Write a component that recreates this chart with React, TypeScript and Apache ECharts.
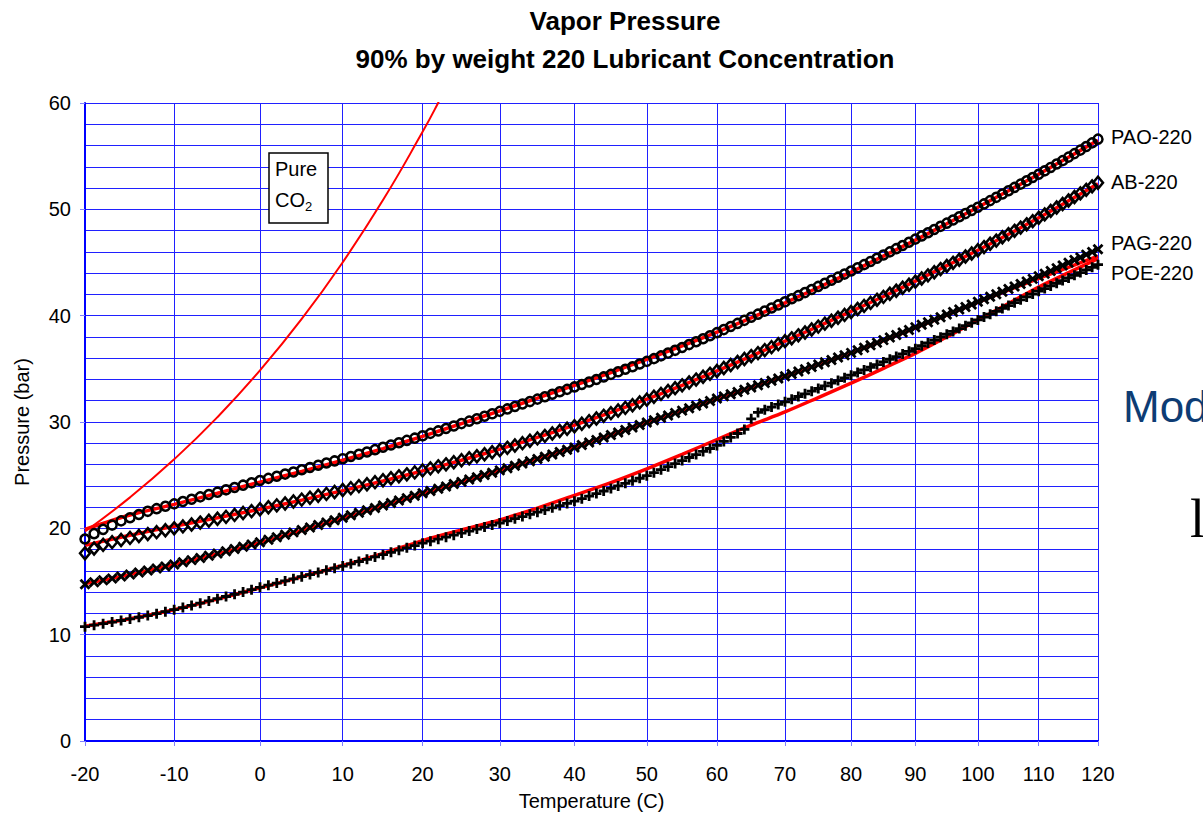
import React, { useEffect, useRef } from "react";
import * as echarts from "echarts";

// Temperatures (°C) of the measured points
const TEMPS = [
  -20, -19, -18, -17, -16, -15, -14, -13, -12, -11, -10, -9, -8, -7, -6, -5, -4, -3, -2, -1,
  0, 1, 2, 3, 4, 5, 6, 7, 8, 9, 10, 11, 12, 13, 14, 15, 16, 17, 18, 19,
  20, 21, 22, 23, 24, 25, 26, 27, 28, 29, 30, 31, 32, 33, 34, 35, 36, 37, 38, 39,
  40, 41, 42, 43, 44, 45, 46, 47, 48, 49, 50, 51, 52, 53, 54, 55, 56, 57, 58, 59,
  60, 61, 62, 63, 64, 65, 66, 67, 68, 69, 70, 71, 72, 73, 74, 75, 76, 77, 78, 79,
  80, 81, 82, 83, 84, 85, 86, 87, 88, 89, 90, 91, 92, 93, 94, 95, 96, 97, 98, 99,
  100, 101, 102, 103, 104, 105, 106, 107, 108, 109, 110, 111, 112, 113, 114, 115, 116, 117, 118, 119, 120,
];

const PAO = [
  19.0, 19.5, 19.9, 20.3, 20.7, 21.0, 21.3, 21.6, 21.85, 22.08, 22.3,
  22.52, 22.74, 22.96, 23.18, 23.4, 23.62, 23.84, 24.06, 24.28, 24.5,
  24.7, 24.9, 25.1, 25.3, 25.51, 25.72, 25.93, 26.14, 26.34, 26.55,
  26.76, 26.97, 27.18, 27.4, 27.62, 27.84, 28.05, 28.27, 28.48, 28.7,
  28.93, 29.16, 29.39, 29.62, 29.85, 30.08, 30.31, 30.54, 30.77, 31.0,
  31.23, 31.46, 31.69, 31.92, 32.15, 32.38, 32.61, 32.84, 33.07, 33.3,
  33.53, 33.76, 34.0, 34.24, 34.48, 34.72, 34.96, 35.2, 35.45, 35.7,
  35.96, 36.22, 36.48, 36.74, 37.01, 37.28, 37.55, 37.83, 38.11, 38.4,
  38.69, 38.98, 39.27, 39.56, 39.85, 40.14, 40.43, 40.72, 41.01, 41.3,
  41.59, 41.88, 42.17, 42.46, 42.75, 43.04, 43.33, 43.62, 43.91, 44.2,
  44.5, 44.8, 45.1, 45.4, 45.7, 46.0, 46.3, 46.6, 46.9, 47.2,
  47.5, 47.8, 48.1, 48.4, 48.7, 49.0, 49.3, 49.6, 49.9, 50.2,
  50.51, 50.82, 51.13, 51.44, 51.75, 52.06, 52.37, 52.68, 52.99, 53.3,
  53.62, 53.94, 54.26, 54.58, 54.91, 55.24, 55.57, 55.91, 56.25, 56.6,
];

const AB = [
  17.65, 18.1, 18.45, 18.7, 18.9, 19.1, 19.28, 19.46, 19.64, 19.82, 20.0,
  20.18, 20.36, 20.54, 20.72, 20.9, 21.08, 21.26, 21.44, 21.62, 21.8,
  21.98, 22.16, 22.34, 22.52, 22.7, 22.88, 23.06, 23.24, 23.42, 23.6,
  23.78, 23.97, 24.15, 24.34, 24.52, 24.71, 24.89, 25.08, 25.26, 25.45,
  25.64, 25.83, 26.02, 26.21, 26.4, 26.59, 26.78, 26.97, 27.16, 27.35,
  27.57, 27.79, 28.01, 28.24, 28.46, 28.69, 28.92, 29.15, 29.37, 29.6,
  29.84, 30.08, 30.33, 30.58, 30.83, 31.08, 31.33, 31.58, 31.84, 32.1,
  32.37, 32.64, 32.91, 33.18, 33.45, 33.72, 33.99, 34.26, 34.53, 34.8,
  35.08, 35.36, 35.64, 35.92, 36.2, 36.48, 36.76, 37.04, 37.32, 37.6,
  37.87, 38.15, 38.42, 38.7, 38.97, 39.25, 39.52, 39.8, 40.07, 40.35,
  40.63, 40.92, 41.2, 41.49, 41.77, 42.06, 42.34, 42.63, 42.91, 43.2,
  43.49, 43.79, 44.08, 44.38, 44.67, 44.97, 45.26, 45.56, 45.85, 46.15,
  46.45, 46.76, 47.06, 47.37, 47.67, 47.98, 48.28, 48.59, 48.89, 49.2,
  49.52, 49.85, 50.17, 50.5, 50.83, 51.16, 51.5, 51.83, 52.16, 52.5,
];

const PAG = [
  14.75, 14.93, 15.11, 15.29, 15.47, 15.65, 15.84, 16.03, 16.22, 16.41, 16.6,
  16.8, 17.01, 17.21, 17.42, 17.63, 17.85, 18.06, 18.27, 18.48, 18.7,
  18.93, 19.16, 19.39, 19.62, 19.85, 20.08, 20.31, 20.54, 20.77, 21.0,
  21.23, 21.46, 21.69, 21.92, 22.15, 22.38, 22.61, 22.84, 23.07, 23.3,
  23.51, 23.73, 23.94, 24.16, 24.37, 24.59, 24.8, 25.02, 25.23, 25.45,
  25.66, 25.88, 26.09, 26.31, 26.52, 26.74, 26.95, 27.17, 27.38, 27.6,
  27.83, 28.07, 28.3, 28.54, 28.77, 29.01, 29.24, 29.48, 29.71, 29.95,
  30.17, 30.4, 30.62, 30.85, 31.07, 31.3, 31.52, 31.75, 31.97, 32.2,
  32.41, 32.62, 32.83, 33.04, 33.25, 33.46, 33.67, 33.88, 34.09, 34.3,
  34.52, 34.74, 34.96, 35.18, 35.4, 35.62, 35.84, 36.06, 36.28, 36.5,
  36.74, 36.98, 37.22, 37.46, 37.7, 37.94, 38.18, 38.42, 38.66, 38.9,
  39.14, 39.38, 39.62, 39.86, 40.1, 40.34, 40.58, 40.82, 41.06, 41.3,
  41.54, 41.78, 42.02, 42.26, 42.5, 42.74, 42.98, 43.22, 43.46, 43.7,
  43.95, 44.21, 44.46, 44.72, 44.97, 45.23, 45.48, 45.74, 45.99, 46.25,
];

const POE = [
  10.75, 10.89, 11.03, 11.18, 11.33, 11.48, 11.64, 11.8, 11.97, 12.16, 12.35,
  12.55, 12.75, 12.96, 13.17, 13.38, 13.59, 13.8, 14.01, 14.23, 14.45,
  14.65, 14.85, 15.05, 15.25, 15.45, 15.65, 15.85, 16.05, 16.25, 16.45,
  16.66, 16.88, 17.09, 17.31, 17.52, 17.74, 17.95, 18.17, 18.38, 18.6,
  18.79, 18.98, 19.17, 19.36, 19.55, 19.74, 19.93, 20.12, 20.31, 20.5,
  20.7, 20.91, 21.11, 21.32, 21.52, 21.73, 21.93, 22.14, 22.34, 22.55,
  22.79, 23.03, 23.27, 23.51, 23.75, 23.99, 24.23, 24.47, 24.71, 24.95,
  25.23, 25.52, 25.8, 26.09, 26.37, 26.66, 26.94, 27.23, 27.51, 27.8,
  28.17, 28.55, 28.92, 29.3, 30.3, 30.9, 31.15, 31.4, 31.65, 31.9,
  32.15, 32.4, 32.65, 32.9, 33.15, 33.4, 33.65, 33.9, 34.15, 34.4,
  34.65, 34.9, 35.15, 35.4, 35.65, 35.9, 36.15, 36.4, 36.65, 36.9,
  37.17, 37.44, 37.71, 37.98, 38.25, 38.52, 38.79, 39.06, 39.33, 39.6,
  39.87, 40.14, 40.41, 40.68, 40.95, 41.22, 41.49, 41.76, 42.03, 42.3,
  42.55, 42.8, 43.05, 43.3, 43.55, 43.8, 44.05, 44.3, 44.55, 44.8,
];

// Fitted curves (red), every 5 °C
const FIT_TEMPS = [
  -20, -15, -10, -5, 0, 5, 10, 15, 20, 25, 30, 35, 40, 45, 50,
  55, 60, 65, 70, 75, 80, 85, 90, 95, 100, 105, 110, 115, 120,
];
const PAO_FIT = [
  19.9, 21.25, 22.25, 23.3, 24.35, 25.35, 26.4, 27.5, 28.65, 29.85, 31.05, 32.25, 33.45, 34.65, 35.9,
  37.15, 38.45, 39.8, 41.2, 42.65, 44.1, 45.6, 47.1, 48.65, 50.2, 51.75, 53.3, 54.9, 56.5,
];
const AB_FIT = [
  18.4, 19.35, 20.2, 21.0, 21.8, 22.65, 23.55, 24.45, 25.4, 26.4, 27.45, 28.55, 29.7, 30.9, 32.15,
  33.45, 34.8, 36.2, 37.6, 39.0, 40.4, 41.8, 43.25, 44.7, 46.15, 47.65, 49.2, 50.8, 52.4,
];
const PAG_FIT = [
  14.8, 15.65, 16.6, 17.6, 18.65, 19.8, 20.95, 22.1, 23.25, 24.35, 25.45, 26.55, 27.65, 28.8, 29.95,
  31.05, 32.15, 33.25, 34.3, 35.4, 36.5, 37.65, 38.85, 40.05, 41.25, 42.4, 43.5, 44.55, 45.6,
];
const POE_FIT = [
  10.8, 11.5, 12.35, 13.35, 14.4, 15.45, 16.5, 17.65, 18.85, 19.85, 20.8, 21.9, 23.1, 24.3, 25.6,
  26.95, 28.35, 29.7, 30.95, 32.3, 33.65, 35.05, 36.45, 38.0, 39.6, 41.15, 42.7, 44.05, 45.35,
];

// Pure CO2 saturation pressure
const CO2_TEMPS = [-20, -15, -10, -5, 0, 5, 10, 15, 20, 22, 25];
const CO2_P = [19.7, 22.91, 26.49, 30.46, 34.85, 39.69, 45.02, 50.87, 57.29, 60.03, 64.34];

const X_TICKS = [-20, -10, 0, 10, 20, 30, 40, 50, 60, 70, 80, 90, 100, 110, 120];
const SERIES_LABELS = ["PAO-220", "AB-220", "PAG-220", "POE-220"];

const KELVIN = 273.15;
// x axis is logarithmic in absolute temperature
const toX = (t: number) => Math.log(t + KELVIN);
const pairs = (ts: number[], ps: number[]) => ts.map((t, i) => [toX(t), ps[i]]);

const FONT = "'Liberation Sans', Arial, sans-serif";
const GRID_BLUE = "#2020ff";
const PLUS = "path://M0,5L10,5M5,0L5,10";
const CROSS = "path://M0,0L10,10M10,0L0,10";

function fitSeries(name: string, data: number[]) {
  return {
    name,
    type: "line",
    data: pairs(FIT_TEMPS, data),
    smooth: 0.3,
    showSymbol: false,
    lineStyle: { color: "#ff0000", width: 3.5 },
    z: 2,
  };
}

function markerSeries(name: string, data: number[], symbol: string, size: any, bw: number) {
  return {
    name,
    type: "scatter",
    data: pairs(TEMPS, data),
    symbol,
    symbolSize: size,
    itemStyle: { color: "transparent", borderColor: "#000", borderWidth: bw, opacity: 1 },
    z: 3,
  };
}

export default function App() {
  const ref = useRef<HTMLDivElement>(null);
  useEffect(() => {
    document.body.style.margin = "0";
    const chart = echarts.init(ref.current!, undefined, { renderer: "svg" });
    const tickVals = X_TICKS.map(toX);
    const labelYs = [137, 182, 243, 273];
    const option: any = {
      animation: false,
      backgroundColor: "#ffffff",
      title: {
        text: "Vapor Pressure\n90% by weight 220 Lubricant Concentration",
        left: 620,
        top: -3,
        textAlign: "center",
        textStyle: { fontFamily: FONT, fontWeight: "bold", fontSize: 26, lineHeight: 38, color: "#000" },
      },
      grid: { left: 85, right: 105, top: 103, bottom: 75, outerBoundsMode: "none", containLabel: false },
      xAxis: {
        type: "value",
        min: toX(-20),
        max: toX(120),
        name: "Temperature (C)",
        nameLocation: "middle",
        nameGap: 50,
        nameTextStyle: { fontFamily: FONT, fontSize: 20, color: "#000" },
        axisLine: { show: true, onZero: false, lineStyle: { color: "#0000ff", width: 2 } },
        axisTick: { show: true, length: 5, customValues: tickVals, lineStyle: { color: "#8080ff" } },
        axisLabel: {
          customValues: tickVals,
          margin: 23,
          fontFamily: FONT,
          fontSize: 20,
          color: "#000",
          formatter: (v: number) => String(Math.round(Math.exp(v) - KELVIN)),
        },
        splitLine: { show: true, lineStyle: { color: GRID_BLUE, width: 1 } },
      },
      yAxis: {
        type: "value",
        min: 0,
        max: 60,
        interval: 10,
        name: "Pressure (bar)",
        nameLocation: "middle",
        nameGap: 53,
        nameTextStyle: { fontFamily: FONT, fontSize: 20, color: "#000" },
        axisLine: { show: true, lineStyle: { color: "#0000ff", width: 2 } },
        axisTick: { show: true, length: 5, lineStyle: { color: "#8080ff" } },
        axisLabel: { margin: 14, fontFamily: FONT, fontSize: 20, color: "#000" },
        splitLine: { show: true, lineStyle: { color: GRID_BLUE, width: 1 } },
        minorTick: { show: false, splitNumber: 5 },
        minorSplitLine: { show: true, lineStyle: { color: GRID_BLUE, width: 1 } },
      },
      series: [
        {
          name: "Pure CO2",
          type: "line",
          data: pairs(CO2_TEMPS, CO2_P),
          smooth: true,
          showSymbol: false,
          clip: true,
          lineStyle: { color: "#ff0000", width: 2 },
          z: 2,
        },
        fitSeries("PAO-220 fit", PAO_FIT),
        fitSeries("AB-220 fit", AB_FIT),
        fitSeries("PAG-220 fit", PAG_FIT),
        fitSeries("POE-220 fit", POE_FIT),
        markerSeries("PAO-220", PAO, "circle", 9, 2.5),
        markerSeries("AB-220", AB, "diamond", [10, 12], 2.5),
        markerSeries("PAG-220", PAG, CROSS, 9, 2.8),
        markerSeries("POE-220", POE, PLUS, 10, 2.8),
      ],
      graphic: [
        {
          type: "rect",
          shape: { x: 269, y: 153, width: 59, height: 70 },
          style: { fill: "#ffffff", stroke: "#000000", lineWidth: 1.5 },
          z: 100,
        },
        {
          type: "text",
          x: 275,
          y: 169,
          style: { text: "Pure", font: `20px ${FONT}`, fill: "#000", align: "left", verticalAlign: "middle" },
          z: 101,
        },
        {
          type: "text",
          x: 275,
          y: 200,
          style: { text: "CO", font: `20px ${FONT}`, fill: "#000", align: "left", verticalAlign: "middle" },
          z: 101,
        },
        {
          type: "text",
          x: 305,
          y: 206,
          style: { text: "2", font: `13px ${FONT}`, fill: "#000", align: "left", verticalAlign: "middle" },
          z: 101,
        },
        ...SERIES_LABELS.map((t, i) => ({
          type: "text",
          x: 1111,
          y: labelYs[i],
          style: { text: t, font: `20px ${FONT}`, fill: "#000", align: "left", verticalAlign: "middle" },
          z: 101,
        })),
        {
          type: "text",
          x: 1123,
          y: 384,
          style: { text: "Mod", font: `44px ${FONT}`, fill: "#0d3c74", align: "left", verticalAlign: "top" },
          z: 101,
        },
        {
          type: "text",
          x: 1190,
          y: 492,
          style: { text: "l", font: `54px 'Liberation Serif', 'Times New Roman', serif`, fill: "#000", align: "left", verticalAlign: "top" },
          z: 101,
        },
      ],
    };
    chart.setOption(option);
    return () => chart.dispose();
  }, []);
  return <div ref={ref} style={{ width: 1203, height: 816 }} />;
}
